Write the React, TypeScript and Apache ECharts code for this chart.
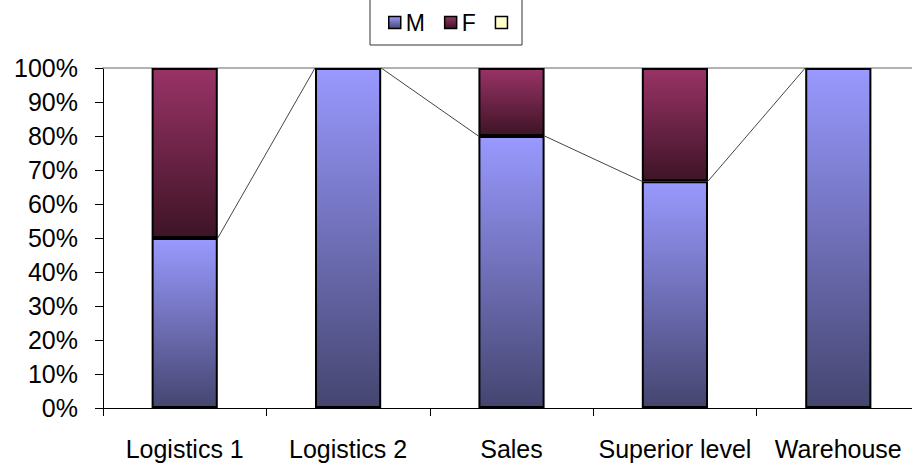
import React, { useEffect, useRef } from "react";
import * as echarts from "echarts";

const categories = ["Logistics 1", "Logistics 2", "Sales", "Superior level", "Warehouse"];
const maleShare = [50, 100, 80, 66.7, 100];
const femaleShare = [50, 0, 20, 33.3, 0];
const otherShare = [0, 0, 0, 0, 0];
const yTicks = [0, 100, 10];

const FONT = "'Liberation Sans', Arial, sans-serif";

export default function App() {
  const ref = useRef<HTMLDivElement>(null);
  useEffect(() => {
    if (!ref.current) return;
    const chart = echarts.init(ref.current, null, { renderer: "svg" });
    const mColor = new echarts.graphic.LinearGradient(0, 0, 0, 1, [
      { offset: 0, color: "#9999FF" },
      { offset: 1, color: "#454570" },
    ]);
    const fColor = new echarts.graphic.LinearGradient(0, 0, 0, 1, [
      { offset: 0, color: "#993366" },
      { offset: 1, color: "#3e1426" },
    ]);
    const nz = (a: number[]) => a.map((v) => (v === 0 ? "-" : v));
    const seriesLineData = maleShare.slice(0, -1).map((v, i) => [i, v, maleShare[i + 1]]);
    const barW = 0.405;
    chart.setOption({
      animation: false,
      textStyle: { fontFamily: FONT, color: "#000" },
      grid: { left: 103, top: 68, bottom: 56, right: -8, containLabel: false, outerBoundsMode: "none" },
      legend: {
        data: ["M", "F", " "],
        left: 388,
        top: 11,
        padding: 0,
        itemGap: 19,
        itemWidth: 12,
        itemHeight: 12,
        icon: "rect",
        itemStyle: { borderColor: "#000", borderWidth: 1.5 },
        textStyle: { fontFamily: FONT, fontSize: 23, color: "#000" },
      },
      graphic: [
        {
          type: "polyline",
          shape: { points: [[370, -2], [370, 45], [522, 45], [522, -2]] },
          style: { stroke: "#333", lineWidth: 1, fill: null },
          silent: true,
        },
      ],
      xAxis: [
        {
          type: "category",
          data: categories,
          axisLine: { lineStyle: { color: "#000", width: 1 } },
          axisTick: { show: true, length: 8, lineStyle: { color: "#000" } },
          axisLabel: { fontFamily: FONT, fontSize: 25, color: "#000", margin: 28, interval: 0 },
        },
        {
          type: "category",
          data: categories,
          position: "top",
          axisLine: { lineStyle: { color: "#999", width: 1.5 } },
          axisTick: { show: false },
          axisLabel: { show: false },
        },
      ],
      yAxis: {
        type: "value",
        min: yTicks[0],
        max: yTicks[1],
        interval: yTicks[2],
        axisLine: { show: true, lineStyle: { color: "#000", width: 1 } },
        axisTick: { show: true, length: 8, lineStyle: { color: "#000" } },
        splitLine: { show: false },
        axisLabel: { fontFamily: FONT, fontSize: 25, color: "#000", margin: 25, formatter: "{value}%" },
      },
      series: [
        {
          name: "M",
          type: "bar",
          stack: "s",
          barWidth: "40.5%",
          data: nz(maleShare),
          itemStyle: { color: mColor, borderColor: "#000", borderWidth: 2 },
        },
        {
          name: "F",
          type: "bar",
          stack: "s",
          barWidth: "40.5%",
          data: nz(femaleShare),
          itemStyle: { color: fColor, borderColor: "#000", borderWidth: 2 },
        },
        {
          name: " ",
          type: "bar",
          stack: "s",
          barWidth: "40.5%",
          data: nz(otherShare),
          itemStyle: { color: "#FFFFCC", borderColor: "#000", borderWidth: 2 },
        },
        {
          name: "seriesLines",
          type: "custom",
          data: seriesLineData,
          encode: { x: 0, y: 1 },
          z: 1,
          silent: true,
          renderItem: (params: any, api: any) => {
            const x0 = api.value(0);
            const p1 = api.coord([x0, api.value(1)]);
            const p2 = api.coord([x0 + 1, api.value(2)]);
            const half = (api.size([1, 0])[0] * barW) / 2;
            return {
              type: "line",
              shape: { x1: p1[0] + half, y1: p1[1], x2: p2[0] - half, y2: p2[1] },
              style: { stroke: "#444", lineWidth: 1 },
            };
          },
        },
      ],
    });
    return () => chart.dispose();
  }, []);
  return (
    <div
      ref={ref}
      style={{ position: "fixed", left: 0, top: 0, width: 912, height: 464, background: "#fff" }}
    />
  );
}
